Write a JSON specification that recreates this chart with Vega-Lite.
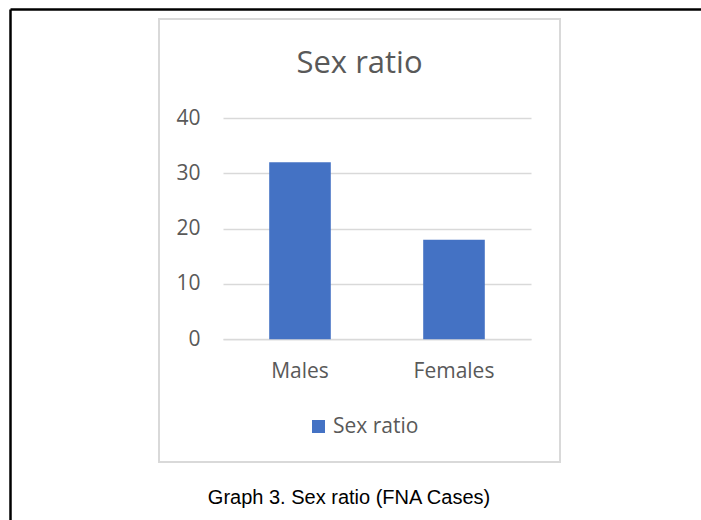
{
  "$schema": "https://vega.github.io/schema/vega-lite/v6.json",
  "width": 401,
  "height": 443,
  "autosize": {"type": "none"},
  "padding": {"left": 159, "top": 19, "right": 141, "bottom": 58},
  "background": "white",
  "config": {
    "font": "Open Sans",
    "view": {"stroke": "#D9D9D9", "strokeWidth": 2}
  },
  "title": {
    "text": "Sex ratio",
    "fontSize": 31,
    "fontWeight": "normal",
    "color": "#595959",
    "anchor": "middle",
    "frame": "group",
    "baseline": "alphabetic",
    "offset": -94.5
  },
  "data": {
    "values": [
      {"sex": "Males", "cases": 32, "series": "Sex ratio"},
      {"sex": "Females", "cases": 18, "series": "Sex ratio"}
    ]
  },
  "layer": [
    {
      "mark": {"type": "bar", "color": "#4472C4"},
      "encoding": {
        "x": {
          "field": "sex",
          "type": "nominal",
          "sort": ["Males", "Females"],
          "scale": {"range": [64, 372], "paddingInner": 0.6, "paddingOuter": 0.3},
          "axis": {
            "orient": "bottom",
            "offset": -122.7,
            "labelAngle": 0,
            "labelFontSize": 21,
            "labelColor": "#595959",
            "labelPadding": 21,
            "ticks": false,
            "domain": true,
            "domainColor": "#D9D9D9",
            "domainWidth": 1,
            "title": "Graph 3. Sex ratio (FNA Cases)",
            "titleFont": "Liberation Sans",
            "titleFontSize": 20,
            "titleFontWeight": "normal",
            "titleColor": "#000000",
            "titleAnchor": null,
            "titleAlign": "center",
            "titleBaseline": "alphabetic",
            "titleX": 189.5,
            "titleY": 163.7
          }
        },
        "y": {
          "field": "cases",
          "type": "quantitative",
          "scale": {"domain": [0, 40], "range": [320.3, 99], "nice": false},
          "axis": {
            "orient": "left",
            "offset": -41,
            "values": [0, 10, 20, 30, 40],
            "labelFontSize": 21,
            "labelColor": "#595959",
            "labelPadding": 0,
            "ticks": false,
            "tickSize": 0,
            "domain": false,
            "grid": true,
            "gridColor": "#D9D9D9",
            "gridWidth": 1.3,
            "title": null
          }
        },
        "color": {
          "field": "series",
          "type": "nominal",
          "scale": {"range": ["#4472C4"]},
          "legend": {
            "orient": "none",
            "legendX": 149,
            "legendY": 397,
            "title": null,
            "padding": 0,
            "symbolType": "square",
            "symbolSize": 169,
            "symbolStrokeWidth": 0,
            "symbolOpacity": 1,
            "labelFontSize": 21,
            "labelColor": "#595959",
            "labelOffset": 4
          }
        }
      }
    },
    {
      "mark": {"type": "point", "opacity": 0},
      "encoding": {
        "x": {
          "field": "cases",
          "type": "quantitative",
          "scale": {"domain": [0, 1], "range": [-149, 542], "nice": false, "zero": false},
          "axis": {
            "orient": "top",
            "offset": 10,
            "domainColor": "#000000",
            "domainWidth": 2.5,
            "labels": false,
            "ticks": false,
            "grid": false,
            "title": null
          }
        },
        "y": {
          "field": "cases",
          "type": "quantitative",
          "scale": {"domain": [0, 1], "range": [-10, 501], "nice": false, "zero": false},
          "axis": {
            "orient": "left",
            "offset": 149,
            "domainColor": "#000000",
            "domainWidth": 2.5,
            "labels": false,
            "ticks": false,
            "grid": false,
            "title": null
          }
        }
      }
    }
  ],
  "resolve": {"scale": {"x": "independent", "y": "independent", "color": "independent"}}
}
